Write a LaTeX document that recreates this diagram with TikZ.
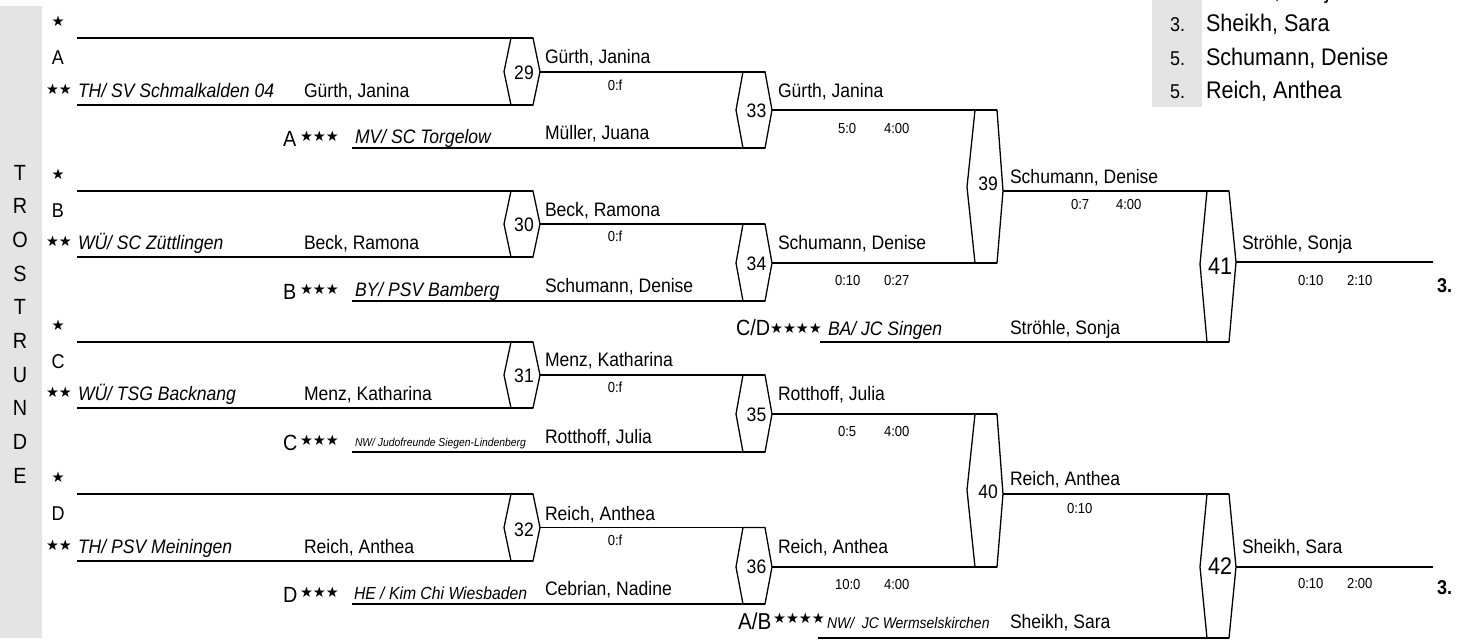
\documentclass[tikz,border=0pt]{standalone}
\usepackage{fontspec}
\setmainfont{Liberation Sans}[FakeStretch=0.9]
\newfontfamily\symf{DejaVu Sans}
\definecolor{panel}{RGB}{228,228,228}
\newcommand\fsz[1]{\fontsize{#1}{#1}\selectfont}
% name, TLx, TRx, Lx, Rx, top y, left-point y, right-point y, bottom y
\newcommand\hexbox[9]{%
  \coordinate (#1tl) at (#2,#6);
  \coordinate (#1tr) at (#3,#6);
  \coordinate (#1r) at (#5,#8);
  \coordinate (#1br) at (#3,#9);
  \coordinate (#1bl) at (#2,#9);
  \coordinate (#1l) at (#4,#7);
  \draw[hexline] (#1tl) -- (#1tr) -- (#1r) -- (#1br) -- (#1bl) -- (#1l) -- cycle;}
\tikzset{
  tx/.style={inner sep=0pt, outer sep=0pt},
  pname/.style={tx, anchor=base west, font=\fsz{19.5}},
  club/.style={tx, anchor=base west, font=\fsz{19.5}\itshape},
  score/.style={tx, anchor=base west, font=\fsz{14.5}},
  letter/.style={tx, anchor=base, font=\fsz{20}},
  bigletter/.style={tx, anchor=base west, font=\fsz{22}},
  star1/.style={tx, anchor=base, font={\symf\fsz{14.5}}},
  stars/.style={tx, anchor=base west, font={\symf\fsz{14.5}}},
  hnum/.style={tx, anchor=center, font=\fsz{19.5}},
  bignum/.style={tx, anchor=center, font=\fsz{24}},
  vlet/.style={tx, anchor=base, font=\fsz{22}},
  place/.style={tx, anchor=base west, font=\fsz{20}\bfseries},
  legnum/.style={tx, anchor=base west, font=\fsz{20}},
  legname/.style={tx, anchor=base west, font=\fsz{24}},
  bline/.style={line width=1.6pt},
  hexline/.style={line width=1.3pt, line join=miter},
}
\begin{document}
\begin{tikzpicture}[x=1pt,y=-1pt]
\useasboundingbox (0,0) rectangle (1478,641);
\clip (0,0) rectangle (1478,641);
% panels
\fill[panel] (0,6) rectangle (42,638);
\fill[panel] (1152,-10) rectangle (1202,107);
\foreach \ch [count=\i from 0] in {T,R,O,S,T,R,U,N,D,E}
  \node[vlet] (v\i) at (20,{180+33.7*\i}) {\ch};
% legend
\node[legnum] (ln0) at (1170,-1.6) {3.};
\node[legname] (lp0) at (1206,-1.6) {Ströhle, Sonja};
\node[legnum] (ln1) at (1170,31.7) {3.};
\node[legname] (lp1) at (1206,31.7) {Sheikh, Sara};
\node[legnum] (ln2) at (1170,65) {5.};
\node[legname] (lp2) at (1206,65) {Schumann, Denise};
\node[legnum] (ln3) at (1170,98.3) {5.};
\node[legname] (lp3) at (1206,98.3) {Reich, Anthea};
% hexagons
\hexbox{h29}{511}{533}{504}{540}{38}{71.7}{71.7}{105}
\hexbox{h30}{511}{533}{504}{540}{191}{224}{224}{257}
\hexbox{h31}{511}{533}{504}{540}{342}{375}{375}{408}
\hexbox{h32}{511}{533}{504}{540}{494}{527.5}{527.5}{561}
\hexbox{h33}{743}{765}{736}{772}{71.7}{110}{110}{148}
\hexbox{h34}{743}{765}{736}{772}{224}{263}{263}{301}
\hexbox{h35}{743}{765}{736}{772}{375}{414}{414}{452}
\hexbox{h36}{743}{765}{736}{772}{527.5}{567}{567}{604}
\hexbox{h39}{975}{997}{967}{1003}{110}{187}{191}{263}
\hexbox{h40}{975}{997}{967}{1003}{414}{490}{494}{567}
\hexbox{h41}{1207}{1229}{1200}{1236}{191}{264}{262}{342}
\hexbox{h42}{1207}{1229}{1200}{1236}{494}{567}{567}{638}
% line start points
\coordinate (a1) at (77,38);   \coordinate (a2) at (77,105);  \coordinate (a3) at (352,148);
\coordinate (b1) at (77,191);  \coordinate (b2) at (77,257);  \coordinate (b3) at (352,301);
\coordinate (c1) at (77,342);  \coordinate (c2) at (77,408);  \coordinate (c3) at (352,452);
\coordinate (d1) at (77,494);  \coordinate (d2) at (77,561);  \coordinate (d3) at (352,604);
\coordinate (cd) at (820,342); \coordinate (ab) at (818,638);
\coordinate (e41) at (1433,262); \coordinate (e42) at (1433,567);
% connectors
\draw[bline] (a1) -- (h29tr) (a2) -- (h29br) (h29r) -- (h33tr) (a3) -- (h33br) (h33r) -- (h39tr);
\draw[bline] (b1) -- (h30tr) (b2) -- (h30br) (h30r) -- (h34tr) (b3) -- (h34br) (h34r) -- (h39br);
\draw[bline] (c1) -- (h31tr) (c2) -- (h31br) (h31r) -- (h35tr) (c3) -- (h35br) (h35r) -- (h40tr);
\draw[bline] (d1) -- (h32tr) (d2) -- (h32br) (h32r) -- (h36tr) (d3) -- (h36br) (h36r) -- (h40br);
\draw[bline] (h39r) -- (h41tr) (cd) -- (h41br) (h41r) -- (e41);
\draw[bline] (h40r) -- (h42tr) (ab) -- (h42br) (h42r) -- (e42);
% hex numbers
\node[hnum] (n29) at (524,72.5) {29};
\node[hnum] (n30) at (524,225) {30};
\node[hnum] (n31) at (524,375.5) {31};
\node[hnum] (n32) at (524,529.5) {32};
\node[hnum] (n33) at (756.5,110.7) {33};
\node[hnum] (n34) at (756.5,264) {34};
\node[hnum] (n35) at (756.5,415) {35};
\node[hnum] (n36) at (756.5,567) {36};
\node[hnum] (n39) at (988,184) {39};
\node[hnum] (n40) at (988,492) {40};
\node[bignum] (n41) at (1220,266) {41};
\node[bignum] (n42) at (1220,566) {42};
% section A
\node[star1] (as1) at (58,26) {★};
\node[letter] (al1) at (58,64) {A};
\node[star1] (as2) at (59,94) {★★};
\node[club] (ac2) at (78,97) {TH/ SV Schmalkalden 04};
\node[pname] (ap2) at (304,97) {Gürth, Janina};
\node[bigletter] (al3) at (283,146) {A};
\node[stars] (as3) at (300,141.5) {★★★};
\node[club] (ac3) at (355,143) {MV/ SC Torgelow};
\node[pname] (ap3) at (545,139.5) {Müller, Juana};
\node[pname] (w29) at (545,63) {Gürth, Janina};
\node[score,anchor=base] (s29) at (615,90) {0:f};
\node[pname] (w33) at (778,97) {Gürth, Janina};
\node[score] (s33a) at (838,133) {5:0};
\node[score] (s33b) at (884,133) {4:00};
% section B
\node[star1] (bs1) at (58,179.5) {★};
\node[letter] (bl1) at (58,217) {B};
\node[star1] (bs2) at (59,246) {★★};
\node[club] (bc2) at (78,249) {WÜ/ SC Züttlingen};
\node[pname] (bp2) at (304,249) {Beck, Ramona};
\node[bigletter] (bl3) at (283,299) {B};
\node[stars] (bs3) at (300,294.5) {★★★};
\node[club] (bc3) at (355,296) {BY/ PSV Bamberg};
\node[pname] (bp3) at (545,292) {Schumann, Denise};
\node[pname] (w30) at (545,216.7) {Beck, Ramona};
\node[score,anchor=base] (s30) at (615,241) {0:f};
\node[pname] (w34) at (778,249) {Schumann, Denise};
\node[score] (s34a) at (835,285) {0:10};
\node[score] (s34b) at (884,285) {0:27};
% section C
\node[star1] (cs1) at (58,330.5) {★};
\node[letter] (cl1) at (58,368) {C};
\node[star1] (cs2) at (59,397) {★★};
\node[club] (cc2) at (78,400) {WÜ/ TSG Backnang};
\node[pname] (cp2) at (304,400) {Menz, Katharina};
\node[bigletter] (cl3) at (283,450) {C};
\node[stars] (cs3) at (300,445.5) {★★★};
\node[tx,anchor=base west,font=\fsz{11.5}\itshape] (cc3) at (355,446) {NW/ Judofreunde Siegen-Lindenberg};
\node[pname] (cp3) at (545,443.3) {Rotthoff, Julia};
\node[pname] (w31) at (545,366.7) {Menz, Katharina};
\node[score,anchor=base] (s31) at (615,392) {0:f};
\node[pname] (w35) at (778,400.7) {Rotthoff, Julia};
\node[score] (s35a) at (838,436) {0:5};
\node[score] (s35b) at (884,436) {4:00};
% section D
\node[star1] (ds1) at (58,482.5) {★};
\node[letter] (dl1) at (58,520) {D};
\node[star1] (ds2) at (59,550) {★★};
\node[club] (dc2) at (78,553) {TH/ PSV Meiningen};
\node[pname] (dp2) at (304,553) {Reich, Anthea};
\node[bigletter] (dl3) at (283,602) {D};
\node[stars] (ds3) at (300,597.5) {★★★};
\node[tx,anchor=base west,font=\fsz{17.5}\itshape] (dc3) at (354,599) {HE / Kim Chi Wiesbaden};
\node[pname] (dp3) at (545,595) {Cebrian, Nadine};
\node[pname] (w32) at (545,520) {Reich, Anthea};
\node[score,anchor=base] (s32) at (615,545) {0:f};
\node[pname] (w36) at (778,553.3) {Reich, Anthea};
\node[score] (s36a) at (835,589) {10:0};
\node[score] (s36b) at (884,589) {4:00};
% third and fourth rounds
\node[pname] (w39) at (1010,183) {Schumann, Denise};
\node[score] (s39a) at (1071,209) {0:7};
\node[score] (s39b) at (1116,209) {4:00};
\node[bigletter] (cdl) at (736,335) {C/D};
\node[stars] (cds) at (770,333.5) {★★★★};
\node[club] (cdc) at (828,335) {BA/ JC Singen};
\node[pname] (cdp) at (1010,334) {Ströhle, Sonja};
\node[pname] (w41) at (1242,249) {Ströhle, Sonja};
\node[score] (s41a) at (1298,285) {0:10};
\node[score] (s41b) at (1347,285) {2:10};
\node[place] (p41) at (1437,292) {3.};
\node[pname] (w40) at (1010,485) {Reich, Anthea};
\node[score] (s40) at (1067,513) {0:10};
\node[tx,anchor=base west,font=\fsz{23}] (abl) at (738,629) {A/B};
\node[stars] (abs) at (773,623) {★★★★};
\node[tx,anchor=base west,font=\fsz{15.5}\itshape] (abc) at (827,628) {NW/~ JC Wermselskirchen};
\node[pname] (abp) at (1010,628) {Sheikh, Sara};
\node[pname] (w42) at (1242,553) {Sheikh, Sara};
\node[score] (s42a) at (1298,588) {0:10};
\node[score] (s42b) at (1347,588) {2:00};
\node[place] (p42) at (1437,594) {3.};
\end{tikzpicture}
\end{document}
